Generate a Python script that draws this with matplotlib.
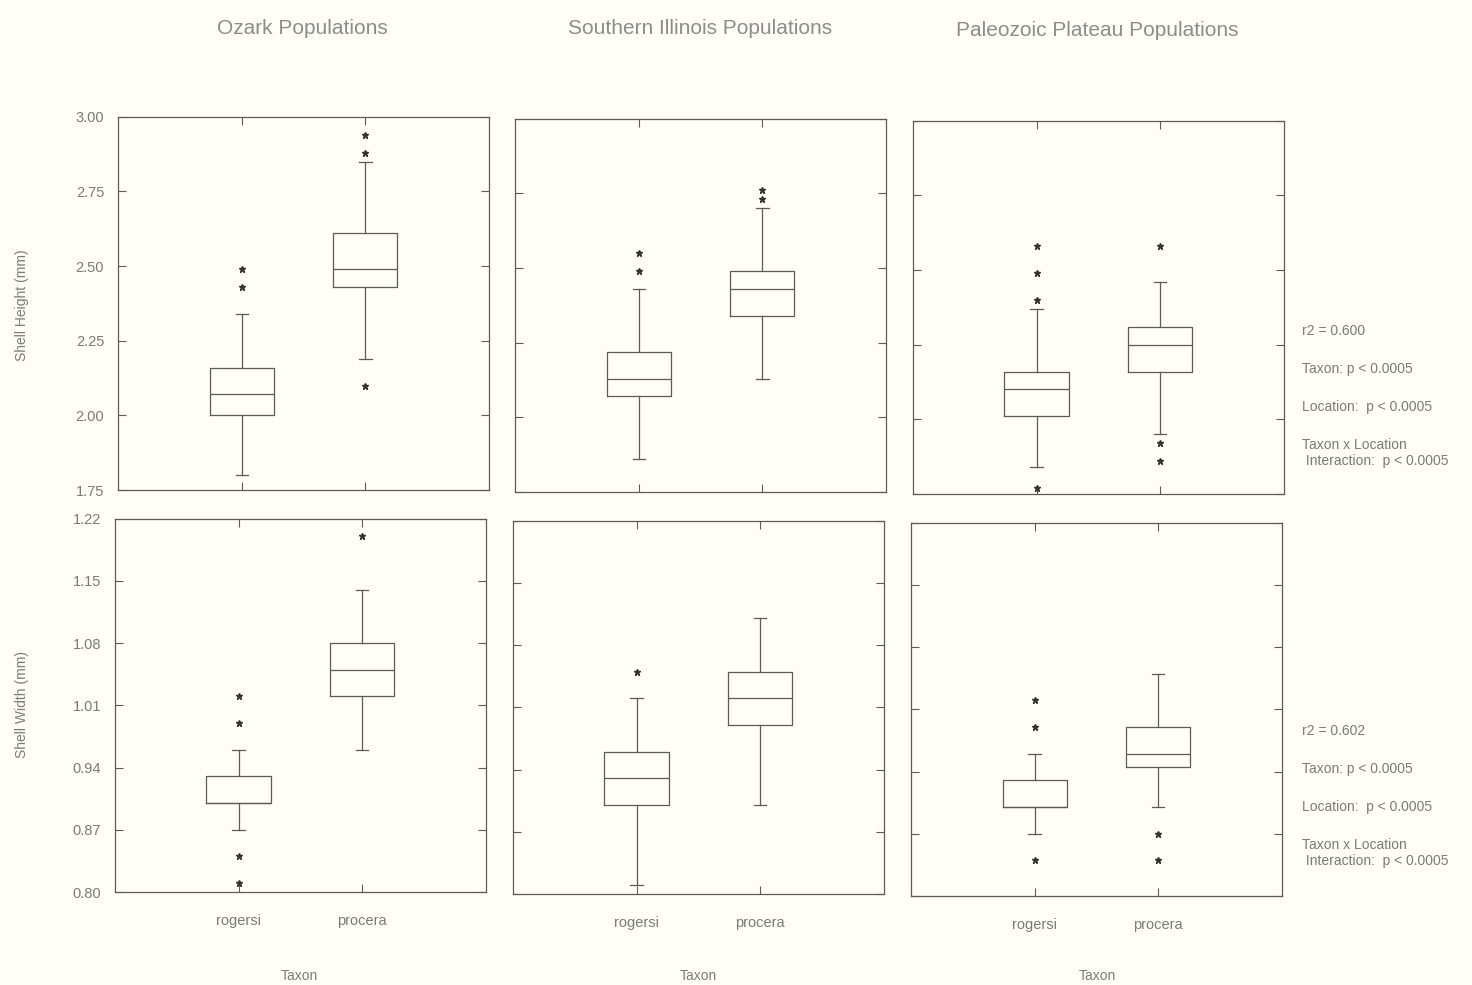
import matplotlib.pyplot as plt

plt.switch_backend("AGG")
plt.rcParams["font.family"] = ["Liberation Sans", "DejaVu Sans"]

BG = "#fffef6"
LINE = "#5a5a5a"
TEXT = "#7a7a7a"

REGIONS = ["Ozark Populations", "Southern Illinois Populations", "Paleozoic Plateau Populations"]
TAXA = ["rogersi", "procera"]

# shell height (mm): q1, median, q3, whisker low, whisker high, outliers
HEIGHT_Q1 = [[2.00, 2.43], [2.07, 2.34], [2.01, 2.16]]
HEIGHT_MED = [[2.07, 2.49], [2.13, 2.43], [2.10, 2.25]]
HEIGHT_Q3 = [[2.16, 2.61], [2.22, 2.49], [2.16, 2.31]]
HEIGHT_LO = [[1.80, 2.19], [1.86, 2.13], [1.84, 1.95]]
HEIGHT_HI = [[2.34, 2.85], [2.43, 2.70], [2.37, 2.46]]
HEIGHT_OUT = [
    [[2.49, 2.43], [2.94, 2.88, 2.10]],
    [[2.55, 2.49], [2.76, 2.73]],
    [[2.58, 2.49, 2.40, 1.77], [2.58, 1.92, 1.86]],
]

# shell width (mm)
WIDTH_Q1 = [[0.90, 1.02], [0.90, 0.99], [0.90, 0.945]]
WIDTH_MED = [[0.90, 1.05], [0.93, 1.02], [0.90, 0.96]]
WIDTH_Q3 = [[0.93, 1.08], [0.96, 1.05], [0.93, 0.99]]
WIDTH_LO = [[0.87, 0.96], [0.81, 0.90], [0.87, 0.90]]
WIDTH_HI = [[0.96, 1.14], [1.02, 1.11], [0.96, 1.05]]
WIDTH_OUT = [
    [[1.02, 0.99, 0.84, 0.81], [1.20]],
    [[1.05], []],
    [[1.02, 0.99, 0.84], [0.87, 0.84]],
]

HEIGHT_TICKS = [1.75, 2.00, 2.25, 2.50, 2.75, 3.00]
WIDTH_TICKS = [0.80, 0.87, 0.94, 1.01, 1.08, 1.15, 1.22]

HEIGHT_STATS = ["r2 = 0.600", "Taxon: p < 0.0005", "Location:  p < 0.0005",
                "Taxon x Location\n Interaction:  p < 0.0005"]
WIDTH_STATS = ["r2 = 0.602", "Taxon: p < 0.0005", "Location:  p < 0.0005",
               "Taxon x Location\n Interaction:  p < 0.0005"]

W, H = 1472, 985
# axes rectangles (left, bottom, width, height) in figure fraction
TOP_POS = [(0.0802, 0.5025), (0.3499, 0.5005), (0.6202, 0.4985)]
BOT_POS = [(0.0781, 0.0944), (0.3485, 0.0924), (0.6189, 0.0904)]
AX_W, AX_H = 0.252, 0.3790
TITLE_X = [302, 700, 1097]
TITLE_Y = [28, 29, 31]
TAXON_X = [299, 698, 1097]


def box_stats(q1, med, q3, lo, hi, out):
    return [
        dict(q1=q1[i], med=med[i], q3=q3[i], whislo=lo[i], whishi=hi[i], fliers=out[i], label=TAXA[i])
        for i in range(len(TAXA))
    ]


def draw_panel(ax, stats, ticks, show_left, show_bottom):
    ax.set_facecolor(BG)
    ax.bxp(
        stats,
        positions=[1, 2],
        widths=0.52,
        boxprops=dict(color=LINE, linewidth=0.9),
        medianprops=dict(color=LINE, linewidth=0.9),
        whiskerprops=dict(color=LINE, linewidth=0.9),
        capprops=dict(color=LINE, linewidth=0.9),
        capwidths=0.1,
        flierprops=dict(marker="*", markersize=4.5, markerfacecolor="#333333",
                        markeredgecolor="#333333", linestyle="none"),
    )
    ax.set_xlim(0, 3)
    ax.set_ylim(ticks[0], ticks[-1])
    ax.set_xticks([1, 2])
    ax.set_yticks(ticks)
    ax.tick_params(direction="in", length=6, width=0.8, color=LINE,
                   top=True, right=True, labelsize=10.5, labelcolor=TEXT, pad=10)
    ax.set_yticklabels([f"{t:.2f}" for t in ticks] if show_left else [])
    ax.set_xticklabels(TAXA if show_bottom else [])
    for s in ax.spines.values():
        s.set_color(LINE)
        s.set_linewidth(0.9)


fig = plt.figure(figsize=(W / 100, H / 100), dpi=100)
fig.patch.set_facecolor(BG)

for c in range(3):
    ax = fig.add_axes([TOP_POS[c][0], TOP_POS[c][1], AX_W, AX_H])
    stats = box_stats(HEIGHT_Q1[c], HEIGHT_MED[c], HEIGHT_Q3[c], HEIGHT_LO[c], HEIGHT_HI[c], HEIGHT_OUT[c])
    draw_panel(ax, stats, HEIGHT_TICKS, c == 0, False)

    axb = fig.add_axes([BOT_POS[c][0], BOT_POS[c][1], AX_W, AX_H])
    stats = box_stats(WIDTH_Q1[c], WIDTH_MED[c], WIDTH_Q3[c], WIDTH_LO[c], WIDTH_HI[c], WIDTH_OUT[c])
    draw_panel(axb, stats, WIDTH_TICKS, c == 0, True)
    axb.tick_params(axis="x", pad=16)

    fig.text(TITLE_X[c] / W, 1 - TITLE_Y[c] / H, REGIONS[c], fontsize=15, color="#8c8c8c",
             ha="center", va="center")
    fig.text(TAXON_X[c] / W, 1 - 976 / H, "Taxon", fontsize=10, color=TEXT, ha="center", va="center")

fig.text(22 / W, 1 - 305 / H, "Shell Height (mm)", rotation=90, fontsize=10, color=TEXT,
         ha="center", va="center")
fig.text(22 / W, 1 - 705 / H, "Shell Width (mm)", rotation=90, fontsize=10, color=TEXT,
         ha="center", va="center")

# ANOVA summaries on the right
for lines, y0 in [(HEIGHT_STATS, 331), (WIDTH_STATS, 731)]:
    for k, txt in enumerate(lines):
        y = y0 + k * 38
        if "\n" in txt:
            fig.text(1302 / W, 1 - (y - 7) / H, txt, fontsize=10, color=TEXT,
                     va="top", linespacing=1.2)
        else:
            fig.text(1302 / W, 1 - y / H, txt, fontsize=10, color=TEXT, va="center")

fig.savefig("out.png", dpi=100, facecolor=BG)
